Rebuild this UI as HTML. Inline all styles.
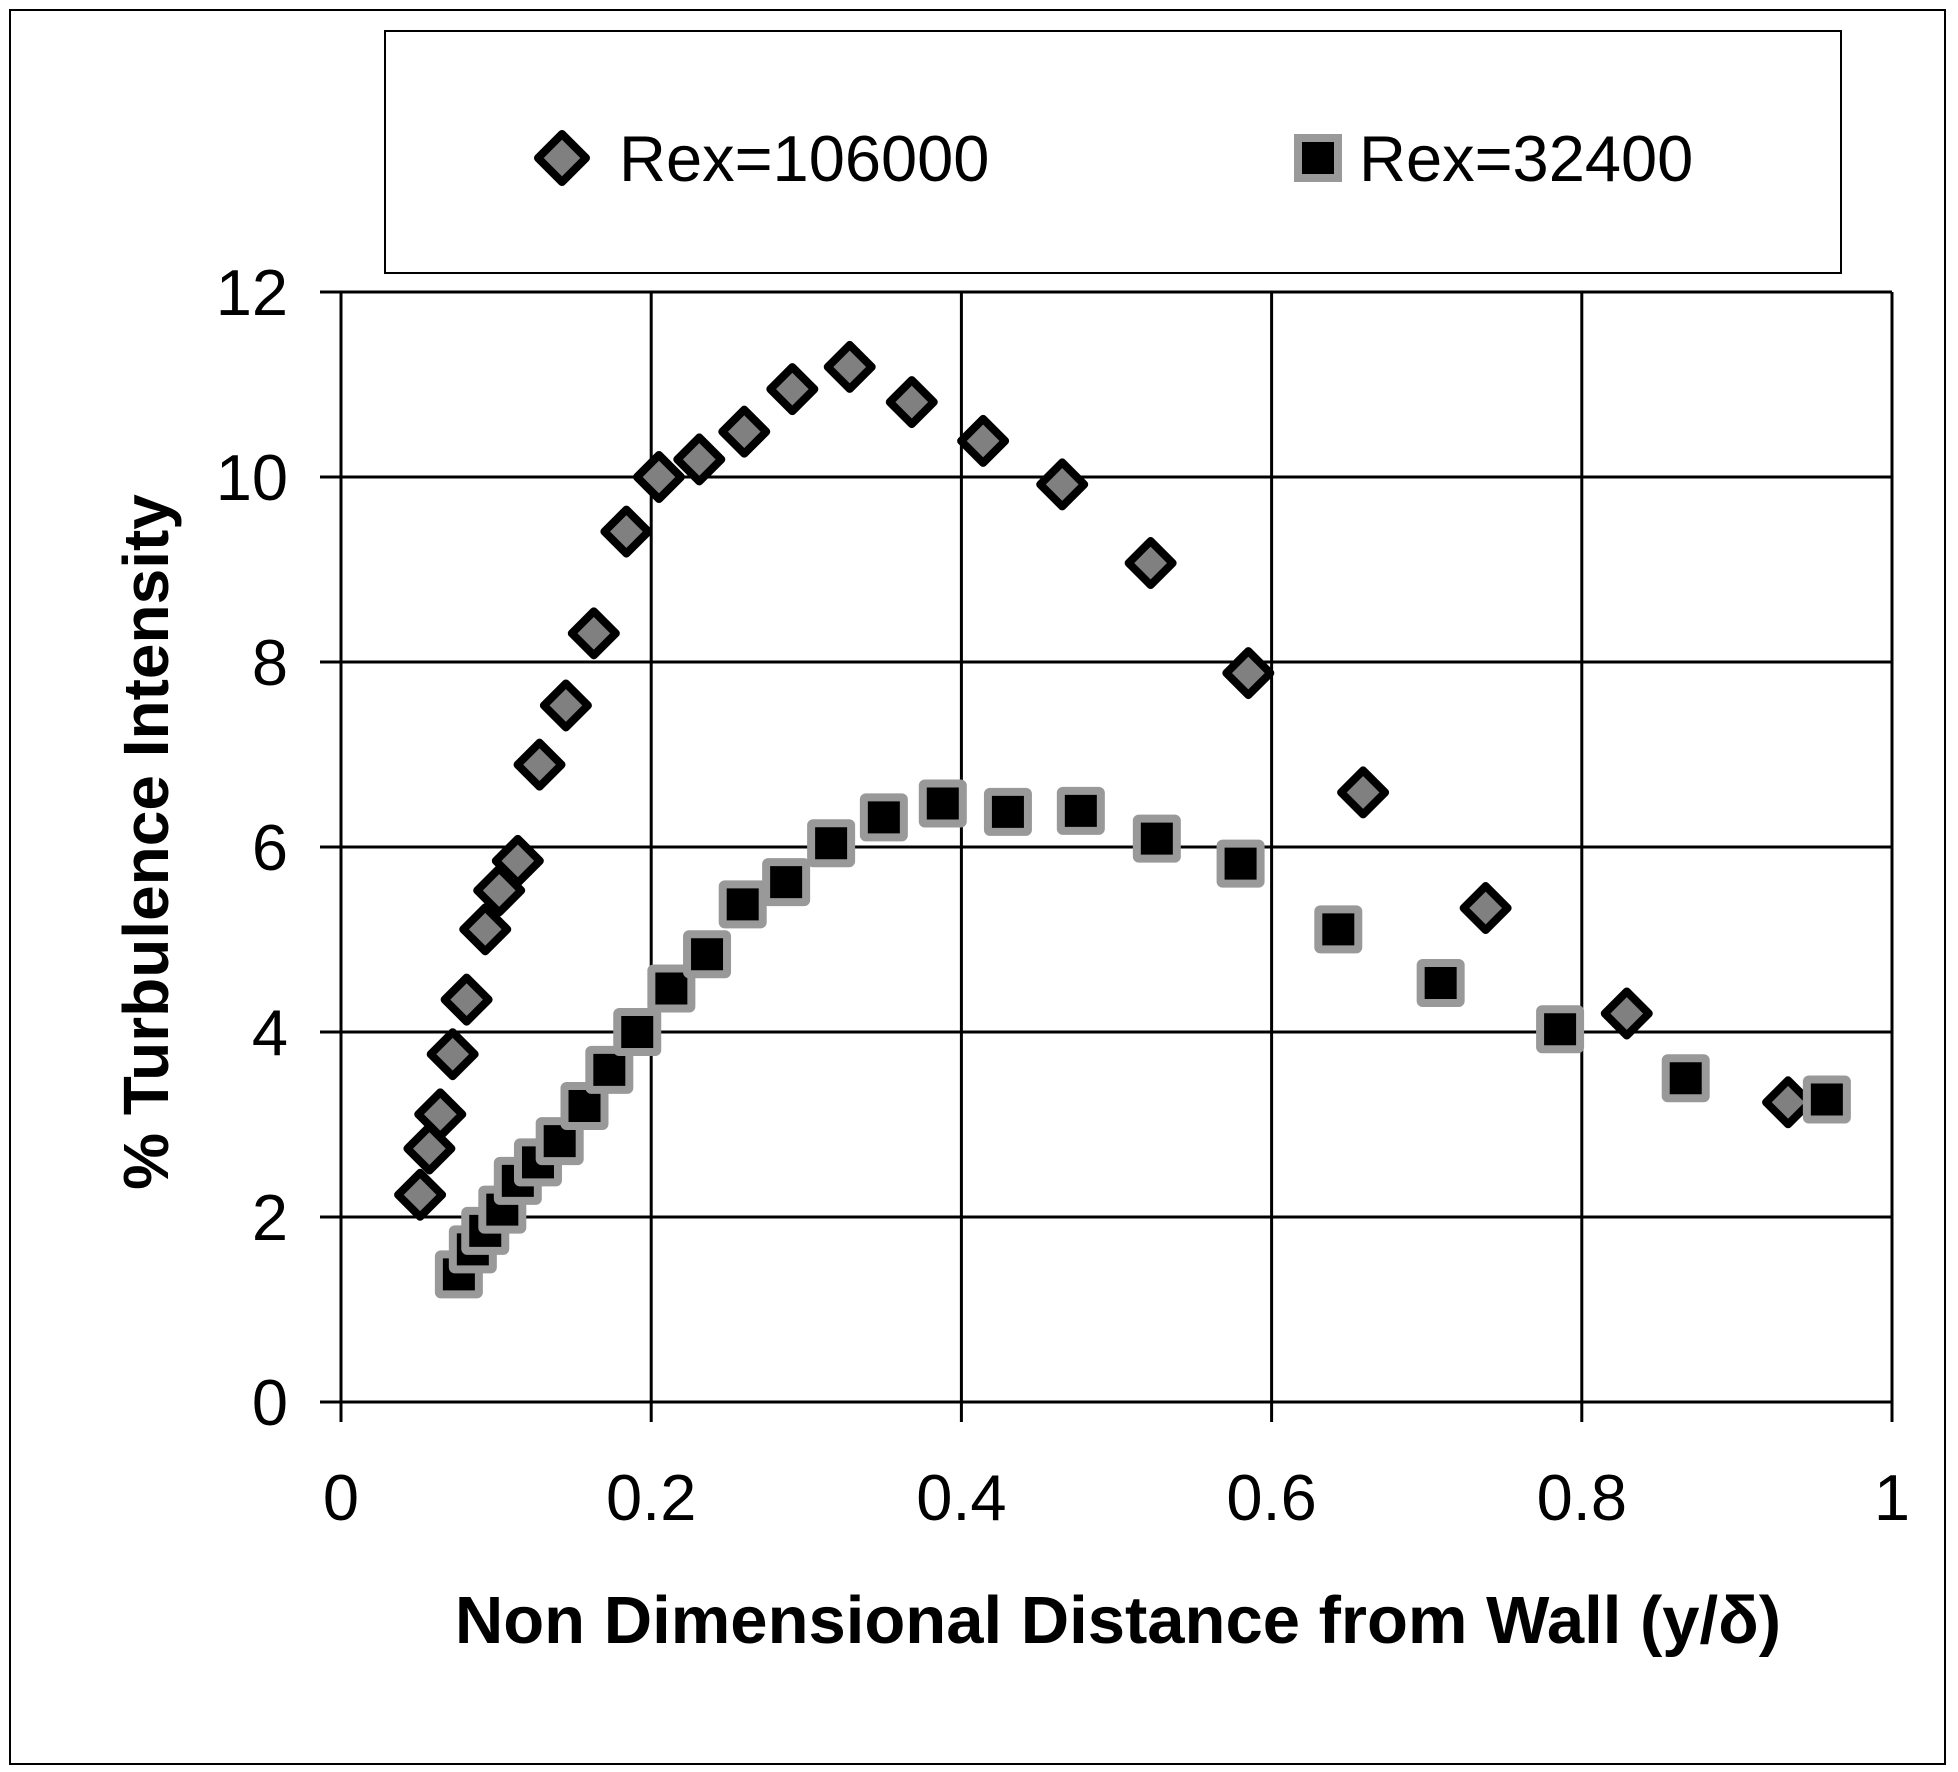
<!DOCTYPE html>
<html><head><meta charset="utf-8"><style>
html,body{margin:0;padding:0;background:#fff}
svg{display:block}
text{font-family:"Liberation Sans",Arial,sans-serif;fill:#000}
</style></head><body>
<svg id="chart" width="1958" height="1772" viewBox="0 0 1958 1772" xmlns="http://www.w3.org/2000/svg">
<rect x="10" y="10" width="1935" height="1754" fill="#fff" stroke="#000" stroke-width="2"/>
<g id="grid"></g>
<g id="axes"></g>
<g id="s1"></g>
<g id="s2"></g>
<g>
<rect x="385" y="31" width="1456" height="242" fill="#fff" stroke="#000" stroke-width="2"/>
<g>
<polygon points="562,134 586,158 562,182 538,158" fill="#808080" stroke="#000" stroke-width="8" stroke-linejoin="round"/>
<text x="619" y="181" font-size="65">Rex=106000</text>
</g>
<g>
<rect x="1298" y="138" width="40" height="40" fill="#000" stroke="#999" stroke-width="8"/>
<text x="1359" y="181" font-size="65">Rex=32400</text>
</g>
</g>
<text font-size="64" font-weight="bold" text-anchor="middle" transform="translate(168,842) rotate(-90)">% Turbulence Intensity</text>
<text font-size="67" font-weight="bold" text-anchor="middle" x="1118" y="1643">Non Dimensional Distance from Wall (y/δ)</text>
</svg>
<script>
const xTicks=[0,0.2,0.4,0.6,0.8,1];
const xTickLabels=["0","0.2","0.4","0.6","0.8","1"];
const yTicks=[0,2,4,6,8,10,12];
const yTickLabels=["0","2","4","6","8","10","12"];
const x106=[0.051,0.057,0.064,0.072,0.081,0.093,0.102,0.114,0.128,0.145,0.163,0.184,0.205,0.231,0.260,0.291,0.328,0.368,0.414,0.465,0.522,0.585,0.659,0.738,0.829,0.933];
const y106=[2.24,2.74,3.11,3.76,4.35,5.11,5.53,5.85,6.89,7.53,8.31,9.41,10.0,10.19,10.49,10.95,11.19,10.81,10.39,9.92,9.07,7.88,6.59,5.34,4.20,3.24];
const x324=[0.076,0.085,0.093,0.104,0.114,0.127,0.141,0.157,0.173,0.191,0.213,0.236,0.259,0.287,0.316,0.350,0.388,0.430,0.477,0.526,0.580,0.643,0.709,0.786,0.867,0.958];
const y324=[1.38,1.65,1.85,2.08,2.39,2.59,2.82,3.20,3.59,4.00,4.47,4.84,5.38,5.62,6.04,6.32,6.47,6.38,6.39,6.09,5.82,5.11,4.53,4.03,3.50,3.27];
const NS="http://www.w3.org/2000/svg";
const X0=341,X1=1892,Y0=1402,Y1=292;
const sx=v=>X0+(v-0)/(1-0)*(X1-X0);
const sy=v=>Y0-(v-0)/(12-0)*(Y0-Y1);
function mk(tag,attrs,parent){const e=document.createElementNS(NS,tag);for(const k in attrs)e.setAttribute(k,attrs[k]);parent.appendChild(e);return e;}
const grid=document.getElementById('grid'),axes=document.getElementById('axes');
yTicks.forEach((t,i)=>{
  const l=mk('line',{x1:X0-21,x2:X1,y1:sy(t),y2:sy(t),stroke:'#000','stroke-width':3},grid);
  
  
  const tx=mk('text',{x:288,y:sy(t)+23,'font-size':65,'text-anchor':'end'},axes);
  tx.textContent=yTickLabels[i];
  
  
});
xTicks.forEach((t,i)=>{
  const l=mk('line',{x1:sx(t),x2:sx(t),y1:Y1,y2:Y0+20,stroke:'#000','stroke-width':3},grid);
  
  
  const tx=mk('text',{x:sx(t),y:1520,'font-size':65,'text-anchor':'middle'},axes);
  tx.textContent=xTickLabels[i];
  
  
});
const s1=document.getElementById('s1'),s2=document.getElementById('s2');
x106.forEach((v,i)=>{
  const cx=sx(v),cy=sy(y106[i]),r=22;
  const p=mk('polygon',{points:`${cx},${cy-r} ${cx+r},${cy} ${cx},${cy+r} ${cx-r},${cy}`,fill:'#808080',stroke:'#000','stroke-width':8,'stroke-linejoin':'round'},s1);
  
  
});
x324.forEach((v,i)=>{
  const cx=sx(v),cy=sy(y324[i]);
  const p=mk('rect',{x:cx-20,y:cy-20,width:40,height:40,fill:'#000',stroke:'#999','stroke-width':8,rx:2},s2);
  
  
});
</script>
</body></html>
